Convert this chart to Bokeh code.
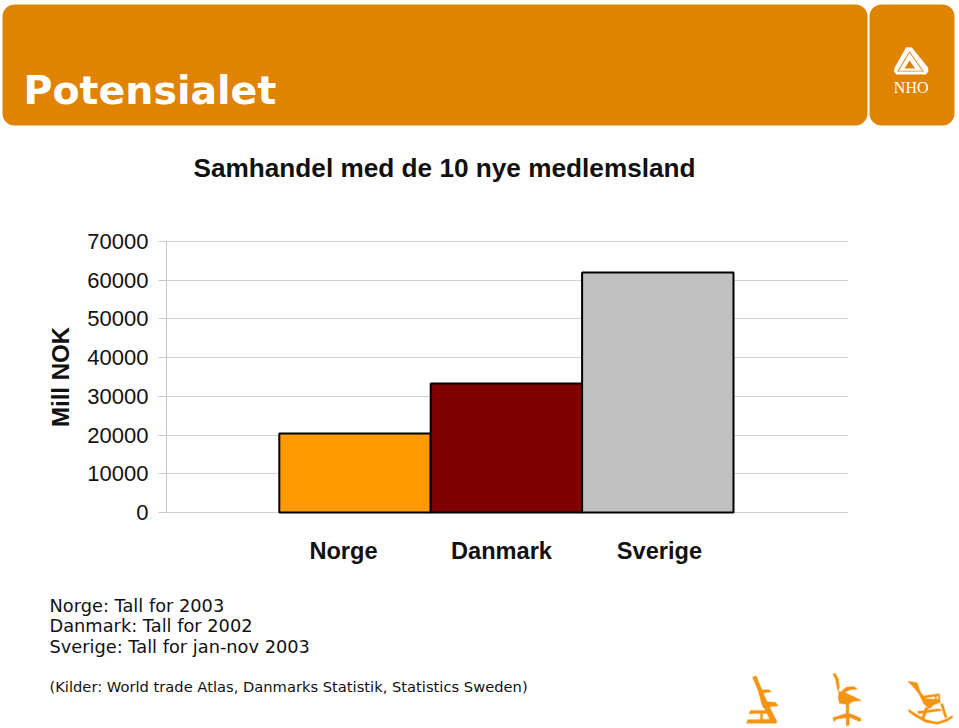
from bokeh.embed import file_html
from bokeh.models import BoxAnnotation, FixedTicker, Label, PolyAnnotation, Range1d
from bokeh.plotting import figure
from bokeh.resources import INLINE

# ---- data ----
categories = ["Norge", "Danmark", "Sverige"]
values = [20400, 33300, 62000]
bar_colors = ["#FF9900", "#800000", "#C0C0C0"]
positions = [1, 2, 3]
y_ticks = [0, 10000, 20000, 30000, 40000, 50000, 60000, 70000]
title = "Samhandel med de 10 nye medlemsland"
heading = "Potensialet"
y_label = "Mill NOK"
notes = ["Norge: Tall for 2003", "Danmark: Tall for 2002", "Sverige: Tall for jan-nov 2003"]
source = "(Kilder: World trade Atlas, Danmarks Statistik, Statistics Sweden)"

# ---- layout (page pixels) ----
W, H = 959, 728
FL, FR, FT, FB = 166, 848, 241, 512
PAD = 2  # frame margin, so that the first and last grid lines are not cut
UNIT = 151.4
BAR0 = 354.5
HEAD = "#DF8300"
CHAIR = "#F39414"
ABS = {"position": "absolute", "left": "0", "top": "0"}

# page layer: header, texts and pictures, in page pixels
bg = figure(width=W, height=H, output_backend="svg", toolbar_location=None,
            x_range=Range1d(0, W), y_range=Range1d(H, 0), min_border=0,
            outline_line_color=None, border_fill_color="white", background_fill_color="white")
bg.styles = ABS
bg.axis.visible = False
bg.grid.visible = False

# chart layer
x_start = 1 - (BAR0 - FL) / UNIT
per_px = y_ticks[-1] / (FB - FT)
p = figure(width=W, height=H, output_backend="svg", toolbar_location=None,
           x_range=Range1d(x_start, x_start + (FR - FL) / UNIT),
           y_range=Range1d(-PAD * per_px, y_ticks[-1] + PAD * per_px),
           min_border_left=FL, min_border_right=W - FR, min_border_top=FT - PAD,
           min_border_bottom=H - FB - PAD,
           outline_line_color=None, border_fill_color=None, background_fill_color=None)
p.styles = ABS
p.xaxis.visible = False
p.xgrid.visible = False
p.ygrid.ticker = FixedTicker(ticks=y_ticks)
p.ygrid.grid_line_color = "#D2D2D2"
p.ygrid.grid_line_width = 1

ax = p.yaxis[0]
ax.ticker = FixedTicker(ticks=y_ticks)
ax.bounds = (y_ticks[0], y_ticks[-1])
ax.minor_tick_line_color = None
ax.major_tick_out = 8
ax.major_tick_in = 0
ax.major_tick_line_color = "#C8C8C8"
ax.axis_line_color = "#C8C8C8"
ax.major_label_text_font = "Liberation Sans"
ax.major_label_text_font_size = "22px"
ax.major_label_text_color = "#111111"
ax.major_label_standoff = 10
ax.axis_label = y_label
ax.axis_label_text_font = "Liberation Sans"
ax.axis_label_text_font_style = "bold"
ax.axis_label_text_font_size = "24px"
ax.axis_label_text_color = "#111111"
ax.axis_label_standoff = 10

p.vbar(x=positions, top=values, bottom=0, width=1, fill_color=bar_colors,
       line_color="#000000", line_width=2)


def box(l, r, t, b, color, radius=0):
    bg.add_layout(BoxAnnotation(left=l, right=r, top=t, bottom=b, fill_color=color, fill_alpha=1,
                                line_color=None, border_radius=radius))


def poly(points, color, stroke=None):
    bg.add_layout(PolyAnnotation(xs=[q[0] for q in points], ys=[q[1] for q in points],
                                 fill_color=color, fill_alpha=1, line_color=stroke, line_width=1.5))


def text(x, y, s, size, font="Liberation Sans", style="normal", color="#111111", align="left", base="middle"):
    bg.add_layout(Label(x=x, y=y, text=s, text_font=font, text_font_size=f"{size}px", text_font_style=style,
                        text_color=color, text_align=align, text_baseline=base))


# header panels
box(2, 867, 4, 125, HEAD, 12)
box(869, 954, 4, 125, HEAD, 12)
text(23, 89.5, heading, 39.5, font="DejaVu Sans", style="bold", color="white")
text(444, 167, title, 26.2, style="bold", align="center")

for lab, cx in zip(categories, [343, 501, 659]):
    text(cx, 550, lab, 23.6, style="bold", align="center")
for s, y in zip(notes, [605, 625, 646]):
    text(49, y, s, 17.8, font="DejaVu Sans")
text(49, 686, source, 14.7, font="DejaVu Sans")


def logo(points, color):
    poly([(840 + a / 3, b / 3) for a, b in points], color)


# NHO logo
logo([(197, 140), (214, 141), (262, 200), (264, 212), (256, 222), (168, 222), (160, 212), (163, 200)], "white")
logo([(207, 152), (250, 213), (170, 213)], HEAD)
logo([(207, 157), (245, 211), (175, 211)], "white")
logo([(207, 180), (224, 204), (192, 204)], HEAD)
text(840 + 212 / 3, 86.5, "NHO", 16, font="Liberation Serif", color="white", align="center")


def chair(points, ox, oy):
    poly([(ox + a / 3, oy + b / 3) for a, b in points], CHAIR, CHAIR)


# chair 1
o1 = (740, 670)
chair([(36, 20), (47, 16), (65, 60), (80, 95), (110, 155), (93, 157), (62, 92), (52, 58)], *o1)
chair([(55, 58), (85, 58), (93, 64), (60, 68)], *o1)
chair([(62, 92), (105, 96), (113, 106), (68, 112)], *o1)
chair([(30, 120), (78, 120), (82, 128), (26, 130)], *o1)
chair([(22, 148), (105, 146), (107, 158), (18, 158)], *o1)
chair([(60, 128), (66, 128), (66, 150), (60, 150)], *o1)
# chair 2
o2 = (825, 668)
chair([(22, 16), (30, 15), (38, 30), (42, 55), (38, 70), (34, 55), (30, 32)], *o2)
chair([(50, 66), (62, 56), (85, 54), (96, 62), (75, 64), (55, 72)], *o2)
chair([(40, 70), (55, 68), (62, 74), (85, 85), (108, 96), (85, 98), (65, 108), (42, 104), (38, 88)], *o2)
chair([(62, 104), (70, 104), (70, 138), (62, 138)], *o2)
chair([(22, 148), (60, 136), (74, 136), (104, 148), (108, 156), (100, 158), (72, 146), (71, 170), (62, 172),
       (62, 148), (32, 152), (26, 160)], *o2)
# chair 3
o3 = (905, 675)
chair([(7, 17), (35, 22), (45, 50), (62, 70), (100, 72), (105, 80), (85, 88), (72, 100), (55, 85), (40, 55),
       (22, 32)], *o3)
chair([(48, 62), (100, 55), (103, 60), (55, 68)], *o3)
chair([(88, 60), (92, 60), (95, 80), (91, 80)], *o3)
chair([(98, 58), (102, 58), (104, 78), (100, 78)], *o3)
chair([(10, 102), (30, 115), (60, 132), (95, 140), (125, 130), (140, 120), (142, 125), (125, 137), (95, 146),
       (60, 140), (28, 122), (8, 107)], *o3)
chair([(60, 95), (68, 97), (55, 132), (48, 128)], *o3)
chair([(105, 85), (112, 85), (125, 125), (118, 127)], *o3)
chair([(35, 108), (100, 100), (110, 105), (40, 115)], *o3)

open("out.html", "w").write(file_html((bg, p), INLINE))
